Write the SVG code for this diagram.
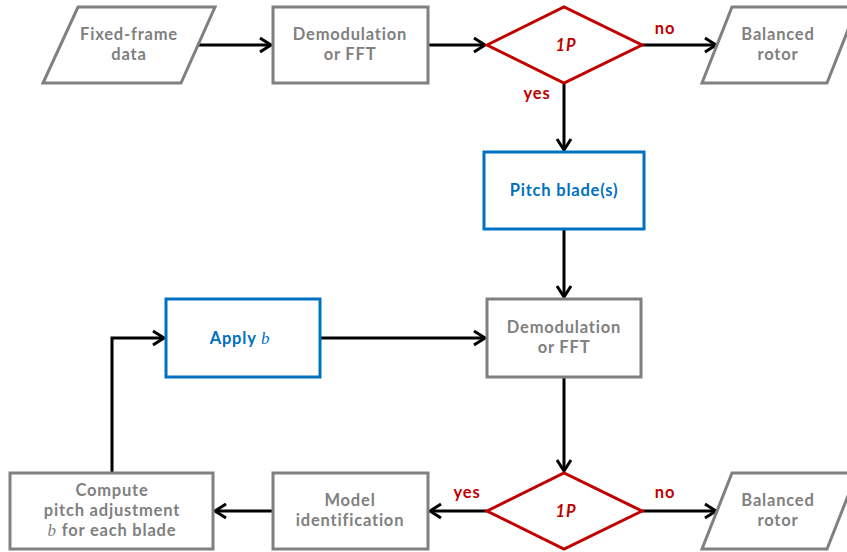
<svg xmlns="http://www.w3.org/2000/svg" width="847" height="552" viewBox="0 0 847 552">
<style>
.g{fill:#fff;stroke:#808080;stroke-width:3}
.b{fill:#fff;stroke:#0070c0;stroke-width:3}
.r{fill:#fff;stroke:#c00000;stroke-width:3}
text{font-family:Lato,"Open Sans","Liberation Sans",sans-serif;font-size:16.5px;font-weight:bold;text-anchor:middle;letter-spacing:0.8px}
.tg{fill:#808080}
.tb{fill:#0070c0}
.tr{fill:#c00000}
.m{font-family:"Liberation Serif","DejaVu Serif",serif;font-style:italic;font-weight:normal;font-size:17px}
.c{fill:none;stroke:#000;stroke-width:3;marker-end:url(#a)}
</style>
<defs>
<marker id="a" markerUnits="userSpaceOnUse" markerWidth="20" markerHeight="20" viewBox="-14 -10 16 20" refX="0" refY="0" orient="auto">
<path d="M-11,-7 L0,0 L-11,7" fill="none" stroke="#000" stroke-width="3"/>
</marker>
</defs>
<g id="connectors">
<path class="c" d="M198,45 H271"/>
<path class="c" d="M428,45 H485"/>
<path class="c" d="M642,45 H716"/>
<path class="c" d="M564,83 V150"/>
<path class="c" d="M564,229 V297"/>
<path class="c" d="M320,338 H485"/>
<path class="c" d="M564,377 V471"/>
<path class="c" d="M642,511 H716"/>
<path class="c" d="M487,511 H430"/>
<path class="c" d="M273,511 H215"/>
<path class="c" d="M112,473 V338 H164"/>
<text class="tr" x="665" y="34">no</text>
<text class="tr" x="537" y="99">yes</text>
<text class="tr" x="665" y="498">no</text>
<text class="tr" x="467" y="498">yes</text>
</g>
<g id="fixed-frame">
<polygon class="g" points="78,7 215,7 181,83 43,83"/>
<text class="tg" x="129" y="40">Fixed-frame</text>
<text class="tg" x="129" y="60">data</text>
</g>
<g id="demod1">
<rect class="g" x="273" y="7" width="155" height="76"/>
<text class="tg" x="350" y="40">Demodulation</text>
<text class="tg" x="350" y="60">or FFT</text>
</g>
<g id="decision1">
<polygon class="r" points="487,45 564,7 642,45 564,83"/>
<text class="tr" x="566" y="51" font-style="italic">1P</text>
</g>
<g id="balanced1">
<polygon class="g" points="732,7 857,7 827,83 702,83"/>
<text class="tg" x="778" y="40">Balanced</text>
<text class="tg" x="778" y="60">rotor</text>
</g>
<g id="pitch">
<rect class="b" x="484" y="152" width="160" height="77"/>
<text class="tb" x="564" y="196">Pitch blade(s)</text>
</g>
<g id="demod2">
<rect class="g" x="487" y="299" width="154" height="78"/>
<text class="tg" x="564" y="333">Demodulation</text>
<text class="tg" x="564" y="353">or FFT</text>
</g>
<g id="apply">
<rect class="b" x="166" y="299" width="154" height="78"/>
<text class="tb" x="240" y="344">Apply <tspan class="m">b</tspan></text>
</g>
<g id="decision2">
<polygon class="r" points="487,511 564,473 642,511 564,549"/>
<text class="tr" x="566" y="517" font-style="italic">1P</text>
</g>
<g id="balanced2">
<polygon class="g" points="732,473 857,473 827,549 702,549"/>
<text class="tg" x="778" y="506">Balanced</text>
<text class="tg" x="778" y="526">rotor</text>
</g>
<g id="model">
<rect class="g" x="273" y="473" width="155" height="76"/>
<text class="tg" x="350" y="506">Model</text>
<text class="tg" x="350" y="526">identification</text>
</g>
<g id="compute">
<rect class="g" x="10" y="473" width="203" height="76"/>
<text class="tg" x="112" y="496">Compute</text>
<text class="tg" x="112" y="516">pitch adjustment</text>
<text class="tg" x="112" y="536"><tspan class="m">b</tspan> for each blade</text>
</g>
</svg>
